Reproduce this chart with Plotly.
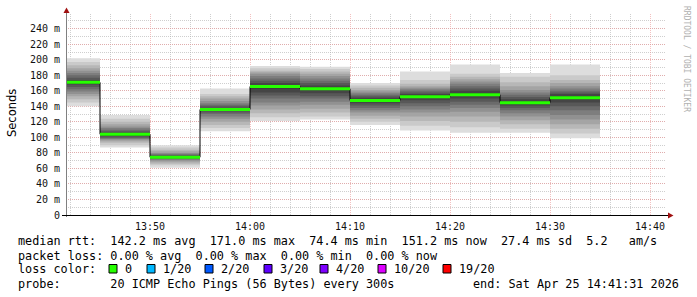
import plotly.graph_objects as go
import pandas as pd

# ---------------- data ----------------
day = "2026-04-25 "
interval_starts = ["13:40", "13:45", "13:50", "13:55", "14:00", "14:05",
                   "14:10", "14:15", "14:20", "14:25", "14:30"]
median_ms = [171.0, 104.0, 74.4, 136.0, 165.6, 162.6, 147.6, 152.5, 155.0, 144.8, 151.2]

# 20 sorted ping times per interval (ms), read from the smoke
pings_1340 = [140, 145, 149, 153, 156, 159, 162, 165, 168, 170, 172, 174, 177, 180, 183, 186, 189, 193, 197, 202]
pings_1345 = [87, 90, 93, 95, 97, 98, 99, 100, 102, 103, 105, 106, 108, 110, 112, 114, 117, 120, 124, 129]
pings_1350 = [61, 64, 66, 68, 70, 71, 72, 73, 74, 74.4, 75, 76, 77, 78, 79, 80, 82, 84, 87, 90]
pings_1355 = [108, 112, 116, 120, 124, 127, 130, 132, 134, 135.5, 137, 138, 140, 142, 144, 147, 150, 153, 156, 163]
pings_1400 = [121, 126, 131, 136, 141, 145, 150, 154, 158, 163, 167, 170, 173, 176, 179, 182, 184, 186, 189, 192]
pings_1405 = [123, 127, 132, 137, 142, 146, 150, 153, 157, 161, 164, 167, 170, 173, 176, 179, 182, 185, 188, 191]
pings_1410 = [116, 120, 124, 128, 132, 135, 138, 141, 144, 146.5, 149, 151, 153, 155, 157, 159, 161, 164, 167, 170]
pings_1415 = [109, 115, 121, 127, 132, 136, 140, 144, 148, 151, 154, 156, 158, 160, 162, 164, 166, 169, 174, 185]
pings_1420 = [106, 113, 120, 127, 133, 138, 142, 146, 150, 154, 157, 160, 163, 166, 169, 172, 175, 178, 182, 194]
pings_1425 = [106, 111, 117, 122, 127, 131, 135, 138, 141, 143.5, 146, 149, 152, 155, 158, 161, 166, 171, 178, 183]
pings_1430 = [99, 105, 111, 117, 123, 129, 135, 140, 145, 149, 153, 156, 158, 160, 163, 166, 170, 174, 180, 194]
all_pings = [pings_1340, pings_1345, pings_1350, pings_1355, pings_1400, pings_1405,
             pings_1410, pings_1415, pings_1420, pings_1425, pings_1430]

y_tick_vals = [0, 20, 40, 60, 80, 100, 120, 140, 160, 180, 200, 220, 240]
y_tick_text = ["0"] + [f"{v} m" for v in y_tick_vals[1:]]

loss_labels = ["0", "1/20", "2/20", "3/20", "4/20", "10/20", "19/20"]
loss_colors = ["#26ff00", "#00b8ff", "#0059ff", "#5e00ff", "#7e00ff", "#dd00ff", "#ff0000"]

legend_line1 = "median rtt:  142.2 ms avg  171.0 ms max  74.4 ms min  151.2 ms now  27.4 ms sd  5.2   am/s"
legend_line2 = "packet loss: 0.00 % avg  0.00 % max  0.00 % min  0.00 % now"
legend_line4 = "probe:       20 ICMP Echo Pings (56 Bytes) every 300s"
legend_end = "end: Sat Apr 25 14:41:31 2026"

# ---------------- layout geometry ----------------
W, H = 697, 297
L, R, T, B = 66, 31, 14, 82
PW, PH = W - L - R, H - T - B

def px(x):
    return (x - L) / PW

def py(y):
    return (H - B - y) / PH

starts = pd.to_datetime([day + s for s in interval_starts])
step = pd.Timedelta(minutes=5)
centers = starts + step / 2
ends = starts + step

MONO = "DejaVu Sans Mono"
fig = go.Figure()

# smoke layers
n = 20
half = n // 2
for i in range(1, half + 1):
    g = int(190 / half * (half - i)) + 50
    col = f"rgb({g},{g},{g})"
    base = [p[i - 1] for p in all_pings]
    top = [p[n - i] for p in all_pings]
    fig.add_trace(go.Bar(
        x=centers, y=[t - b for t, b in zip(top, base)], base=base,
        width=[300000] * len(centers), marker=dict(color=col, line=dict(width=0)),
        hoverinfo="skip", showlegend=False))

# black step median line
fig.add_trace(go.Scatter(
    x=list(starts) + [ends[-1]], y=median_ms + [median_ms[-1]],
    mode="lines", line=dict(color="#000000", width=1, shape="hv"),
    hoverinfo="skip", showlegend=False))

# green median segments
gx, gy = [], []
for s, e, m in zip(starts, ends, median_ms):
    gx += [s, e, None]
    gy += [m, m, None]
fig.add_trace(go.Scatter(x=gx, y=gy, mode="lines",
                         line=dict(color=loss_colors[0], width=3),
                         hoverinfo="skip", showlegend=False))

x0 = pd.Timestamp(day + "13:41:36")
x1 = x0 + pd.Timedelta(minutes=60)

major_grid = "rgba(235,150,150,0.6)"
minor_grid = "rgba(175,175,175,0.6)"

fig.update_layout(
    width=W, height=H, margin=dict(l=L, r=R, t=T, b=B, pad=0),
    paper_bgcolor="white", plot_bgcolor="white", barmode="overlay",
    showlegend=False,
    xaxis=dict(
        range=[x0, x1], type="date", tickformat="%H:%M",
        tick0=day + "13:40:00", dtick=600000,
        showgrid=True, gridcolor=major_grid, griddash="1px,1px", gridwidth=1,
        minor=dict(dtick=120000, tick0=day + "13:40:00", showgrid=True,
                   gridcolor=minor_grid, griddash="1px,1px", gridwidth=1),
        showline=False, zeroline=False, ticks="",
        tickfont=dict(family=MONO, size=10, color="#111"),
        ticklabelstandoff=4,
    ),
    yaxis=dict(
        range=[0, 259], tickvals=y_tick_vals, ticktext=y_tick_text,
        showgrid=True, gridcolor=major_grid, griddash="1px,1px", gridwidth=1,
        minor=dict(dtick=10, tick0=0, showgrid=True,
                   gridcolor=minor_grid, griddash="1px,1px", gridwidth=1),
        showline=False, zeroline=False, ticks="",
        tickfont=dict(family=MONO, size=10, color="#111"),
        ticklabelstandoff=5,
    ),
)

shapes = []
# y axis line
shapes.append(dict(type="line", xref="paper", yref="paper",
                   x0=px(66.5), x1=px(66.5), y0=py(217), y1=py(12),
                   line=dict(color="#808080", width=1)))
# x axis line
shapes.append(dict(type="line", xref="paper", yref="paper",
                   x0=px(62), x1=px(669), y0=py(215.5), y1=py(215.5),
                   line=dict(color="#000000", width=1)))
# arrows
shapes.append(dict(type="path", xref="paper", yref="paper",
                   path=f"M {px(63.5)} {py(13)} L {px(69.5)} {py(13)} L {px(66.5)} {py(7.5)} Z",
                   fillcolor="#a01010", line=dict(width=0)))
shapes.append(dict(type="path", xref="paper", yref="paper",
                   path=f"M {px(668)} {py(212.5)} L {px(668)} {py(218.5)} L {px(673.5)} {py(215.5)} Z",
                   fillcolor="#a01010", line=dict(width=0)))

annotations = []
annotations.append(dict(text="Seconds", xref="paper", yref="paper", x=px(12), y=py(113),
                        textangle=-90, showarrow=False, xanchor="center", yanchor="middle",
                        font=dict(family="DejaVu Sans", size=11.5, color="#000")))
annotations.append(dict(text="RRDTOOL / TOBI OETIKER", xref="paper", yref="paper",
                        x=px(686), y=py(59), textangle=90, showarrow=False,
                        xanchor="center", yanchor="middle",
                        font=dict(family=MONO, size=8, color="#b0b0b0")))

LEG = 11.8
def txt(s, x, y, anchor="left"):
    annotations.append(dict(text=s.replace(" ", "&nbsp;"), xref="paper", yref="paper",
                            x=px(x), y=py(y), showarrow=False, xanchor=anchor,
                            yanchor="middle",
                            font=dict(family=MONO, size=LEG, color="#000")))

txt(legend_line1, 16, 241)
txt(legend_line2, 16, 256)
txt("loss color:", 16, 269)
sq_x = [109, 147, 205, 264, 320, 378, 443]
for sx, lab, col in zip(sq_x, loss_labels, loss_colors):
    shapes.append(dict(type="rect", xref="paper", yref="paper",
                       x0=px(sx), x1=px(sx + 8), y0=py(273), y1=py(264.5),
                       fillcolor=col, line=dict(color="#000", width=1)))
    txt(lab, sx + 14, 269)
txt(legend_line4, 16, 284)
txt(legend_end, 681, 284, anchor="right")

fig.update_layout(shapes=shapes, annotations=annotations)
fig.write_html("out.html")
